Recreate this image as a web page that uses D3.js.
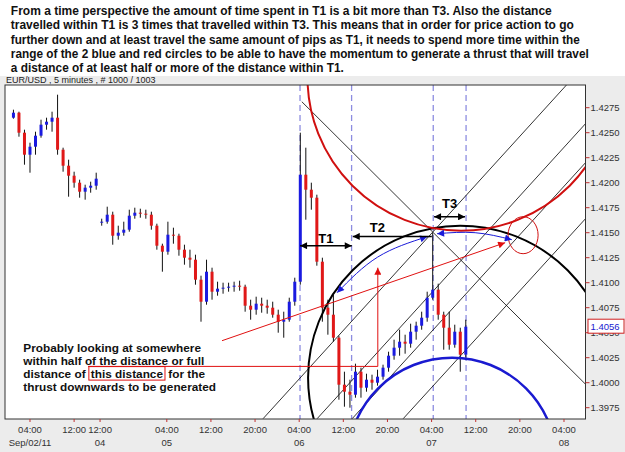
<!DOCTYPE html>
<html><head><meta charset="utf-8">
<script src="https://cdn.jsdelivr.net/npm/d3@7/dist/d3.min.js"></script>
<style>body{margin:0;background:#fff;} svg{display:block;}</style>
</head><body>
<svg id="c" width="625" height="452"></svg>
<script>
// ---------- DATA ----------
const titleLines = [
  "From a time perspective the amount of time spent in T1 is a bit more than T3.  Also the distance",
  "travelled within T1 is 3 times that travelled within T3.  This means that in order for price action to go",
  "further down and at least travel the same amount of pips as T1, it needs to spend more time within the",
  "range of the 2 blue and red circles to be able to have the momentum to generate a thrust that will travel",
  "a distance of at least half or more of the distance within T1."
];
const headerText = "EUR/USD , 5 minutes , # 1000 / 1003";
const noteLines = ["Probably looking at somewhere", "within half of the distance or full", "distance of ", "thrust downwards to be generated"];
const noteBoxed = "this distance";
const noteAfter = " for the";

// chart-hours (compressed trading time, 0 = Sep/02 04:00)
const hours = [-3,-2,-1,0,1,2,3,4,5,6,7,8,9,10,11,12,13,14,15,16,17,18,19,20,21,22,23,24,25,26,27,28,29,30,31,32,33,34,35,36,37,38,39,40,41,42,43,44,45,46,47,48,49,50,51,52,53,54,55,56,57,58,59,60,61,62,63,64,65,66,67,68,69,70,71,72,73,74,75,76,77,78,79];
const open  = [1.4265,1.4270,1.4250,1.4228,1.4236,1.4247,1.4258,1.4261,1.4265,1.4233,1.4217,1.4207,1.4200,1.4191,1.4195,1.4197,1.4160,1.4161,1.4168,1.4147,1.4150,1.4153,1.4167,1.4170,1.4169,1.4168,1.4157,1.4137,1.4131,1.4148,1.4147,1.4133,1.4125,1.4123,1.4103,1.4081,1.4111,1.4091,1.4094,1.4095,1.4096,1.4097,1.4096,1.4077,1.4073,1.4079,1.4077,1.4075,1.4068,1.4061,1.4063,1.4081,1.4101,1.4208,1.4193,1.4185,1.4121,1.4075,1.4068,1.4045,1.3998,1.3991,1.3988,1.4011,1.3995,1.4003,1.4000,1.4006,1.4015,1.4027,1.4035,1.4041,1.4039,1.4051,1.4057,1.4065,1.4085,1.4093,1.4068,1.4055,1.4038,1.4051,1.4028];
const high  = [1.4273,1.4271,1.4253,1.4240,1.4251,1.4263,1.4265,1.4271,1.4288,1.4235,1.4223,1.4211,1.4203,1.4198,1.4201,1.4210,1.4164,1.4176,1.4171,1.4157,1.4161,1.4173,1.4175,1.4174,1.4173,1.4171,1.4159,1.4139,1.4161,1.4155,1.4149,1.4138,1.4133,1.4128,1.4107,1.4123,1.4115,1.4101,1.4100,1.4100,1.4101,1.4102,1.4098,1.4083,1.4086,1.4085,1.4083,1.4081,1.4073,1.4071,1.4085,1.4105,1.4250,1.4235,1.4200,1.4188,1.4125,1.4083,1.4088,1.4047,1.4011,1.4003,1.4019,1.4015,1.4009,1.4008,1.4013,1.4018,1.4031,1.4043,1.4053,1.4048,1.4059,1.4061,1.4071,1.4091,1.4150,1.4099,1.4071,1.4071,1.4058,1.4055,1.4063];
const low   = [1.4264,1.4246,1.4218,1.4210,1.4228,1.4245,1.4253,1.4251,1.4228,1.4211,1.4186,1.4195,1.4185,1.4183,1.4190,1.4193,1.4157,1.4159,1.4138,1.4143,1.4147,1.4151,1.4164,1.4165,1.4164,1.4153,1.4133,1.4111,1.4128,1.4139,1.4127,1.4118,1.4115,1.4098,1.4061,1.4078,1.4083,1.4087,1.4089,1.4091,1.4091,1.4092,1.4071,1.4063,1.4068,1.4070,1.4069,1.4065,1.4050,1.4045,1.4061,1.4077,1.4098,1.4163,1.4173,1.4117,1.4061,1.4048,1.4041,1.3983,1.3976,1.3975,1.3985,1.3985,1.3991,1.3993,1.3997,1.4003,1.4011,1.4023,1.4027,1.4029,1.4035,1.4043,1.4053,1.4061,1.4083,1.4063,1.4033,1.4033,1.4035,1.4011,1.4025];
const close = [1.4270,1.4250,1.4228,1.4236,1.4247,1.4258,1.4261,1.4265,1.4233,1.4217,1.4207,1.4200,1.4191,1.4195,1.4197,1.4204,1.4161,1.4168,1.4147,1.4150,1.4153,1.4167,1.4170,1.4169,1.4168,1.4157,1.4137,1.4131,1.4148,1.4147,1.4133,1.4125,1.4123,1.4103,1.4081,1.4111,1.4091,1.4094,1.4095,1.4096,1.4097,1.4096,1.4077,1.4073,1.4079,1.4077,1.4075,1.4068,1.4061,1.4063,1.4081,1.4101,1.4208,1.4193,1.4185,1.4121,1.4075,1.4068,1.4045,1.3998,1.3991,1.3988,1.4011,1.3995,1.4003,1.4000,1.4006,1.4015,1.4027,1.4035,1.4041,1.4039,1.4051,1.4057,1.4065,1.4085,1.4093,1.4068,1.4055,1.4038,1.4051,1.4028,1.4056];
const lastPrice = 1.4056;

const yTicks = [1.3975,1.4000,1.4025,1.4050,1.4075,1.4100,1.4125,1.4150,1.4175,1.4200,1.4225,1.4250,1.4275];
const xTickHours = [0,8,12.7,24.8,32.8,40.8,48.8,56.8,64.8,72.8,80.8,88.8,96.8];
const xTickTime  = ["04:00","12:00","12:00","04:00","12:00","20:00","04:00","12:00","20:00","04:00","12:00","20:00","04:00"];
const xTickDate  = ["Sep/02/11","","04","05","","","06","","","07","","","08"];

// annotation geometry (chart-hours, price)
const dashedHours = [48.95, 58.3, 73.1, 79.05];
const downLines = [[[49.27,1.4281],[100.7,1.39985]]];
const upLines = [
  [[42.25,1.3964],[97.3,1.4298]],
  [[52.05,1.3964],[100.7,1.4259]],
  [[58.4,1.3964],[100.7,1.4220]],
  [[67.65,1.3964],[100.7,1.4164]]
];
const blackCircle = {h:77.97, p:1.4005, rh:27.56, rp:0.0152};
const redCircle   = {h:78.15, p:1.43056, rh:27.85, rp:0.01536};
const blueCircle  = {h:76.52, p:1.39205, rh:18.95, rp:0.01045};
const smallRed    = {h:89.39, p:1.41475, rh:2.72, rp:0.00185};
const blueArc1 = [[55.67,1.4090],[63.02,1.41256],[71.99,1.4146]];
const blueArc2 = [[73.8,1.4149],[80.7,1.4150],[87.35,1.4143]];
const redTrend = [[34.81,1.4042],[86.13,1.4140]];
const redHoriz = [[10.52,1.40163],[63.05,1.40163]];
const redUp    = [[63.05,1.40163],[63.05,1.4115]];
const tArrows = [
  {label:"T1", from:48.96, to:58.33, p:1.4137, lp:1.41395, both:true},
  {label:"T2", from:58.51, to:72.84, p:1.41463, lp:1.41505, both:false},
  {label:"T3", from:73.25, to:78.87, p:1.41659, lp:1.41745, both:true}
];

// ---------- DRAW ----------
const svg = d3.select('#c');
const x = d3.scaleLinear().domain([-4.53, 100.7]).range([5, 585.5]);
const y = d3.scaleLinear().domain([1.39637, 1.42977]).range([419, 85]);
const L = 5, T = 85, R = 585.5, B = 419;

const defs = svg.append('defs');
defs.append('clipPath').attr('id','pc').append('rect').attr('x',L).attr('y',T).attr('width',R-L).attr('height',B-T);
function marker(id, color, w, h){
  defs.append('marker').attr('id',id).attr('viewBox','0 0 10 10').attr('refX',10).attr('refY',5)
    .attr('markerWidth',w).attr('markerHeight',h).attr('markerUnits','userSpaceOnUse')
    .attr('orient','auto-start-reverse')
    .append('path').attr('d','M0,0L10,5L0,10z').attr('fill',color);
}
marker('mk','#000',8,7); marker('mb','#1a1ad8',8,7); marker('mr','#e01010',8,7);

// title
const titleFont = '"Liberation Sans",Arial,sans-serif';
const narrowFont = '"Liberation Sans Narrow","Arial Narrow","Liberation Sans",Arial,sans-serif';
const titleWidths = [541, 563, 569, 578, 333];
svg.selectAll('text.title').data(titleLines).join('text').attr('class','title')
  .attr('x',10.8).attr('y',(d,i)=>15.2 + i*14.2)
  .attr('font-family',titleFont).attr('font-weight','bold').attr('font-size',12.5).attr('fill','#111')
  .attr('textLength',(d,i)=>titleWidths[i]).attr('lengthAdjust','spacingAndGlyphs')
  .text(d=>d);

// background
svg.append('rect').attr('x',0).attr('y',76).attr('width',625).attr('height',376).attr('fill','#ececec');
svg.append('text').attr('x',6).attr('y',83).attr('font-family','Liberation Sans, Arial, sans-serif')
  .attr('font-size',9).attr('fill','#222').text(headerText);
svg.append('rect').attr('x',L).attr('y',T).attr('width',R-L).attr('height',B-T).attr('fill','#fff');

const g = svg.append('g').attr('clip-path','url(#pc)');

// dashed verticals
g.selectAll('line.dash').data(dashedHours).join('line')
  .attr('x1',d=>x(d)).attr('x2',d=>x(d)).attr('y1',T).attr('y2',B)
  .attr('stroke','#8c8ce0').attr('stroke-width',1.3).attr('stroke-dasharray','6,4');

// thin black lines
const lineGen = d3.line().x(d=>x(d[0])).y(d=>y(d[1]));
g.selectAll('path.gl').data(downLines.concat(upLines)).join('path')
  .attr('d',lineGen).attr('fill','none').attr('stroke','#000').attr('stroke-width',0.8);

// candles
const candles = hours.map((h,i)=>({h, o:open[i], hi:high[i], lo:low[i], c:close[i]}));
g.selectAll('line.wick').data(candles).join('line')
  .attr('x1',d=>x(d.h)).attr('x2',d=>x(d.h)).attr('y1',d=>y(d.hi)).attr('y2',d=>y(d.lo))
  .attr('stroke','#111').attr('stroke-width',1);
g.selectAll('rect.body').data(candles).join('rect')
  .attr('x',d=>x(d.h)-1.5).attr('width',3)
  .attr('y',d=>y(Math.max(d.o,d.c))).attr('height',d=>Math.max(1,Math.abs(y(d.o)-y(d.c))))
  .attr('fill',d=>d.c>=d.o?'#1a1ae0':'#e01818');

// circles
function ell(c, color, w){
  g.append('ellipse').attr('cx',x(c.h)).attr('cy',y(c.p))
   .attr('rx',x(c.h+c.rh)-x(c.h)).attr('ry',y(c.p)-y(c.p+c.rp))
   .attr('fill','none').attr('stroke',color).attr('stroke-width',w);
}
ell(blackCircle,'#000',2);
ell(redCircle,'#d01010',2);
ell(blueCircle,'#1a1ad0',2.5);
ell(smallRed,'#d01010',1);

// blue curved arrows
const curve = d3.line().x(d=>x(d[0])).y(d=>y(d[1])).curve(d3.curveNatural);
[blueArc1, blueArc2].forEach(a=>{
  g.append('path').attr('d',curve(a)).attr('fill','none').attr('stroke','#1a1ad8').attr('stroke-width',1)
   .attr('marker-start','url(#mb)').attr('marker-end','url(#mb)');
});
// red lines
g.append('path').attr('d',lineGen(redTrend)).attr('stroke','#e01010').attr('stroke-width',1).attr('marker-end','url(#mr)');
g.append('path').attr('d',lineGen(redHoriz)).attr('stroke','#e01010').attr('stroke-width',1);
g.append('path').attr('d',lineGen(redUp)).attr('stroke','#e01010').attr('stroke-width',1).attr('marker-end','url(#mr)');

// T arrows
tArrows.forEach(t=>{
  g.append('line').attr('x1',x(t.from)).attr('x2',x(t.to)).attr('y1',y(t.p)).attr('y2',y(t.p))
   .attr('stroke','#000').attr('stroke-width',1.5)
   .attr('marker-start','url(#mk)').attr('marker-end', t.both?'url(#mk)':null);
  g.append('text').attr('x',(x(t.from)+x(t.to))/2 + (t.both?0:-15)).attr('y',y(t.lp))
   .attr('text-anchor','middle').attr('font-family',narrowFont).attr('font-weight','bold')
   .attr('font-size',13).attr('fill','#000').text(t.label);
});

// note text
const noteFont = '"Liberation Sans",Arial,sans-serif';
const noteY = [351.5, 364.8, 378.1, 391.4];
const noteNodes = noteLines.map((s,i)=>
  svg.append('text').attr('x',23.3).attr('y',noteY[i]).attr('font-family',noteFont).attr('font-weight','bold')
    .attr('font-size',11.8).attr('fill','#111').style('white-space','pre').text(s).node());
(function(){
  const w0 = noteNodes[2].getComputedTextLength();
  const bx = 23.3 + w0;
  const t2 = svg.append('text').attr('x',bx+2).attr('y',noteY[2]).attr('font-family',noteFont).attr('font-weight','bold')
    .attr('font-size',11.8).attr('fill','#111').text(noteBoxed);
  const w1 = t2.node().getComputedTextLength();
  svg.append('rect').attr('x',bx).attr('y',noteY[2]-11.5).attr('width',w1+4).attr('height',13.5)
    .attr('fill','none').attr('stroke','#e01010').attr('stroke-width',1);
  svg.append('text').attr('x',bx+w1+4).attr('y',noteY[2]).attr('font-family',noteFont).attr('font-weight','bold')
    .attr('font-size',11.8).attr('fill','#111').style('white-space','pre').text(noteAfter);
})();

// frame
svg.append('rect').attr('x',L).attr('y',T).attr('width',R-L).attr('height',B-T)
  .attr('fill','none').attr('stroke','#333').attr('stroke-width',1);

// y axis
const ya = svg.append('g');
yTicks.forEach(v=>{
  ya.append('line').attr('x1',R).attr('x2',R+4).attr('y1',y(v)).attr('y2',y(v)).attr('stroke','#c03030');
  ya.append('text').attr('x',R+5).attr('y',y(v)+3.5).attr('font-family','Liberation Sans, Arial, sans-serif')
    .attr('font-size',9.5).attr('fill','#333').text(d3.format('.4f')(v));
});
// last price box
ya.append('rect').attr('x',R+2.5).attr('y',y(lastPrice)-7.5).attr('width',36).attr('height',14)
  .attr('fill','#fff').attr('stroke','#d02020').attr('stroke-width',1);
ya.append('text').attr('x',R+5).attr('y',y(lastPrice)+3.5).attr('font-family','Liberation Sans, Arial, sans-serif')
  .attr('font-size',9.5).attr('fill','#1a1ad0').text(d3.format('.4f')(lastPrice));

// x axis
const xa = svg.append('g');
xTickHours.forEach((h,i)=>{
  xa.append('line').attr('x1',x(h)).attr('x2',x(h)).attr('y1',B).attr('y2',B+3).attr('stroke','#c03030');
  xa.append('text').attr('x',x(h)).attr('y',432.5).attr('text-anchor','middle').attr('font-family','Liberation Sans, Arial, sans-serif')
    .attr('font-size',9.5).attr('fill','#333').text(xTickTime[i]);
  if (xTickDate[i]) xa.append('text').attr('x',x(h)).attr('y',445.5).attr('text-anchor','middle').attr('font-family','Liberation Sans, Arial, sans-serif')
    .attr('font-size',9.5).attr('fill','#333').text(xTickDate[i]);
});
</script>
</body></html>
